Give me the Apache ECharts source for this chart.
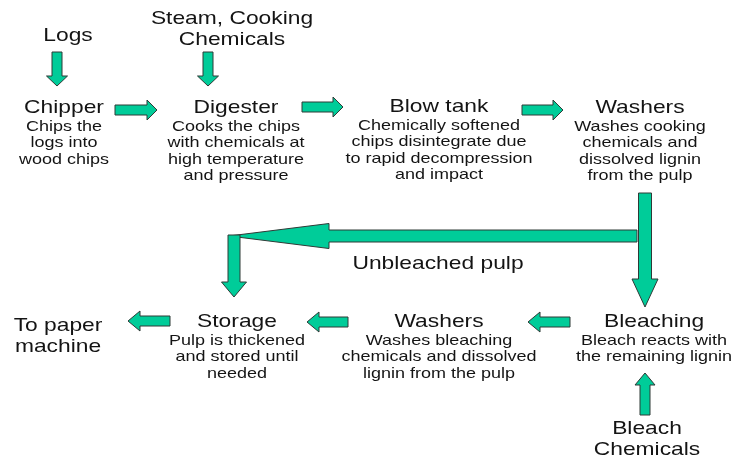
<!DOCTYPE html>
<html>
<head>
<meta charset="utf-8">
<script src="https://cdn.jsdelivr.net/npm/echarts@6/dist/echarts.min.js"></script>
<style>
  html, body { margin: 0; padding: 0; background: #fff; }
  #main { width: 734px; height: 461px; }
</style>
</head>
<body>
<div id="main"></div>
<script>
// 节点文字（标题 + 说明）
var nodeTitles = ['Logs', 'Steam, Cooking\nChemicals', 'Chipper', 'Digester', 'Blow tank', 'Washers',
  'Unbleached pulp', 'Bleaching', 'Washers', 'Storage', 'To paper\nmachine', 'Bleach\nChemicals'];
var nodeDescs = [
  '', '',
  'Chips the\nlogs into\nwood chips',
  'Cooks the chips\nwith chemicals at\nhigh temperature\nand pressure',
  'Chemically softened\nchips disintegrate due\nto rapid decompression\nand impact',
  'Washes cooking\nchemicals and\ndissolved lignin\nfrom the pulp',
  '',
  'Bleach reacts with\nthe remaining lignin',
  'Washes bleaching\nchemicals and dissolved\nlignin from the pulp',
  'Pulp is thickened\nand stored until\nneeded',
  '', ''
];
// 节点位置（图上坐标）
var nodeX = [68, 232, 64, 236, 439, 640, 438, 654, 439, 237, 58, 647];
var nodeY = [36, 19, 108, 108, 107, 108, 264, 322, 322, 322, 326, 429];

// 箭头 起点 -> 终点
var arrowFrom = [[637, 236], [57, 52], [208, 52], [115, 110], [302, 107], [522, 110],
  [645, 193], [234, 235], [570, 322], [348, 322], [170, 321], [645, 415]];
var arrowTo = [[229, 236], [57, 86], [208, 86], [157, 110], [343, 107], [563, 110],
  [645, 307], [234, 297], [528, 322], [307, 322], [128, 321], [645, 373]];

// 箭头尺寸：[杆宽, 头宽, 头长]
var arrowSize = [[12, 25, 100], [10, 21, 10], [10, 21, 10], [10, 20, 10], [10, 20, 10], [10, 20, 10],
  [13, 26, 28], [12, 25, 15], [10, 20, 12], [10, 20, 12], [10, 20, 12], [10, 20, 12]];

var FILL = '#00CC99';
var INK = '#141414';
var FONT = "'Liberation Sans', Arial, sans-serif";

var myChart = echarts.init(document.getElementById('main'));

var arrowData = [];
for (var i = 0; i < arrowFrom.length; i++) {
  arrowData.push([arrowFrom[i][0], arrowFrom[i][1], arrowTo[i][0], arrowTo[i][1], i]);
}
var nodeData = [];
for (var j = 0; j < nodeTitles.length; j++) {
  nodeData.push([nodeX[j], nodeY[j], j]);
}

function renderArrow(params, api) {
  var p1 = api.coord([api.value(0), api.value(1)]);
  var p2 = api.coord([api.value(2), api.value(3)]);
  var sz = arrowSize[api.value(4)];
  var dx = p2[0] - p1[0], dy = p2[1] - p1[1];
  var len = Math.sqrt(dx * dx + dy * dy);
  var ux = dx / len, uy = dy / len;
  var nx = -uy, ny = ux;
  var bx = p2[0] - ux * sz[2], by = p2[1] - uy * sz[2];
  var s = sz[0] / 2, h = sz[1] / 2;
  var pts = [
    [p1[0] + nx * s, p1[1] + ny * s],
    [bx + nx * s, by + ny * s],
    [bx + nx * h, by + ny * h],
    [p2[0], p2[1]],
    [bx - nx * h, by - ny * h],
    [bx - nx * s, by - ny * s],
    [p1[0] - nx * s, p1[1] - ny * s]
  ];
  return {
    type: 'polygon',
    shape: { points: pts },
    style: { fill: FILL, stroke: '#2f3a36', lineWidth: 1 }
  };
}

function renderNode(params, api) {
  var idx = api.value(2);
  var p = api.coord([api.value(0), api.value(1)]);
  var children = [];
  nodeTitles[idx].split('\n').forEach(function (t, k) {
    children.push({
      type: 'text', x: p[0], y: p[1] + k * 21, scaleX: 1.2,
      style: { text: t, x: 0, y: 0, fill: INK, font: '19px ' + FONT, align: 'center', verticalAlign: 'middle' }
    });
  });
  if (nodeDescs[idx]) {
    nodeDescs[idx].split('\n').forEach(function (t, k) {
      children.push({
        type: 'text', x: p[0], y: p[1] + 19 + k * 16.2, scaleX: 1.2,
        style: { text: t, x: 0, y: 0, fill: INK, font: '15px ' + FONT, align: 'center', verticalAlign: 'middle' }
      });
    });
  }
  return { type: 'group', children: children };
}

var option = {
  backgroundColor: '#fff',
  animation: false,
  grid: { left: 0, right: 0, top: 0, bottom: 0 },
  xAxis: { type: 'value', min: 0, max: 734, show: false },
  yAxis: { type: 'value', min: 0, max: 461, inverse: true, show: false },
  series: [
    {
      type: 'custom',
      coordinateSystem: 'cartesian2d',
      renderItem: renderArrow,
      data: arrowData,
      silent: true
    },
    {
      type: 'custom',
      coordinateSystem: 'cartesian2d',
      renderItem: renderNode,
      data: nodeData,
      silent: true
    }
  ]
};
myChart.setOption(option);
window.addEventListener('resize', function () {
  myChart.resize();
});
</script>
</body>
</html>
